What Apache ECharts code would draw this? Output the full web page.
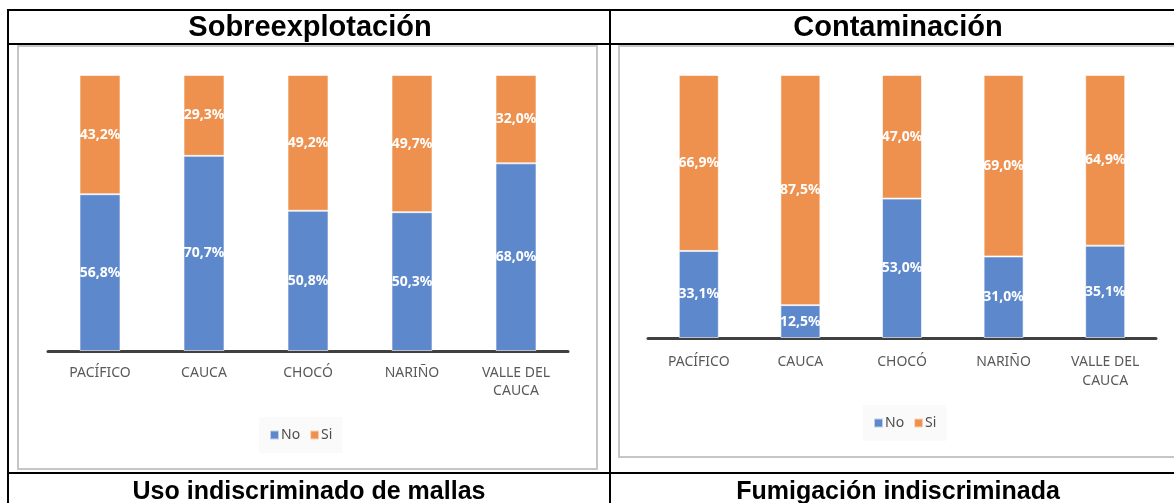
<!DOCTYPE html>
<html>
<head>
<meta charset="utf-8">
<script src="https://cdn.jsdelivr.net/npm/echarts@6/dist/echarts.min.js"></script>
<style>
html,body{margin:0;padding:0;background:#fff;}
#c{width:1174px;height:503px;}
</style>
</head>
<body>
<div id="c"></div>
<script>
const categories = ['PACÍFICO', 'CAUCA', 'CHOCÓ', 'NARIÑO', 'VALLE DEL\nCAUCA'];
const seriesNames = ['No', 'Si'];
const sobreNo = [56.8, 70.7, 50.8, 50.3, 68.0];
const sobreSi = [43.2, 29.3, 49.2, 49.7, 32.0];
const contaNo = [33.1, 12.5, 53.0, 31.0, 35.1];
const contaSi = [66.9, 87.5, 47.0, 69.0, 64.9];
const panelTitles = ['Sobreexplotación', 'Contaminación'];
const bottomTitles = ['Uso indiscriminado de mallas', 'Fumigación indiscriminada'];

const BLUE = '#5D88CB', ORANGE = '#EF914E';
const FONT = 'Noto Sans';
const TFONT = 'Liberation Sans';

function fmt(p) { return p.value.toFixed(1).replace('.', ',') + '%'; }

function barSeries(name, data, idx, color, width) {
  return {
    type: 'bar', name: name, data: data, stack: 's' + idx,
    xAxisIndex: idx, yAxisIndex: idx, barWidth: width,
    itemStyle: { color: color, borderColor: 'rgba(255,255,255,0.6)', borderWidth: 1 },
    label: { show: true, position: 'inside', color: '#fff', fontWeight: 'bold',
      fontSize: 14, fontFamily: FONT, formatter: fmt },
    emphasis: { disabled: true }, animation: false
  };
}

function xAxis(idx, margin, lh) {
  return {
    type: 'category', gridIndex: idx, data: categories,
    axisLine: { lineStyle: { color: '#404040', width: 3 } },
    axisTick: { show: false },
    axisLabel: { color: '#595959', fontSize: 14, fontFamily: FONT, margin: margin, lineHeight: lh, interval: 0 }
  };
}
function yAxis(idx) {
  return { type: 'value', gridIndex: idx, min: 0, max: 100, show: false, splitLine: { show: false } };
}

const lineStyle = { stroke: '#000', lineWidth: 2 };
const graphics = [
  { type: 'rect', z: 0, shape: { x: 18, y: 46, width: 579, height: 423 }, style: { fill: '#fff', stroke: '#c6c6c6', lineWidth: 2 } },
  { type: 'rect', z: 0, shape: { x: 619, y: 46, width: 572, height: 411 }, style: { fill: '#fff', stroke: '#c6c6c6', lineWidth: 2 } },
  { type: 'line', shape: { x1: 7, y1: 10, x2: 1174, y2: 10 }, style: lineStyle },
  { type: 'line', shape: { x1: 7, y1: 44, x2: 1174, y2: 44 }, style: lineStyle },
  { type: 'line', shape: { x1: 7, y1: 473, x2: 1174, y2: 473 }, style: lineStyle },
  { type: 'line', shape: { x1: 8, y1: 9, x2: 8, y2: 503 }, style: lineStyle },
  { type: 'line', shape: { x1: 610, y1: 9, x2: 610, y2: 503 }, style: lineStyle },
  { type: 'text', x: 310, y: 28, style: { text: panelTitles[0], font: 'bold 29px "' + TFONT + '"', fill: '#000', align: 'center', verticalAlign: 'middle' } },
  { type: 'text', x: 898, y: 28, style: { text: panelTitles[1], font: 'bold 29px "' + TFONT + '"', fill: '#000', align: 'center', verticalAlign: 'middle' } },
  { type: 'text', x: 309, y: 492, style: { text: bottomTitles[0], font: 'bold 25px "' + TFONT + '"', fill: '#000', align: 'center', verticalAlign: 'middle' } },
  { type: 'text', x: 898, y: 492, style: { text: bottomTitles[1], font: 'bold 25px "' + TFONT + '"', fill: '#000', align: 'center', verticalAlign: 'middle' } }
];

function legend(cx, cy) {
  return {
    data: seriesNames, left: cx - 42, top: cy - 17, width: 84,
    icon: 'rect', itemWidth: 9, itemHeight: 9, itemGap: 9,
    backgroundColor: '#fafafa', padding: [11, 10],
    textStyle: { color: '#4d4d4d', fontSize: 14, fontFamily: FONT, padding: [0, 0, 0, -3] },
    selectedMode: false
  };
}

const chart = echarts.init(document.getElementById('c'), null, { renderer: 'canvas' });
chart.setOption({
  animation: false,
  backgroundColor: '#fff',
  graphic: graphics,
  legend: [legend(301, 434), legend(905, 422)],
  grid: [
    { left: 48, top: 75, width: 520, height: 276 },
    { left: 648, top: 75, width: 508, height: 263 }
  ],
  xAxis: [xAxis(0, 13, 18), xAxis(1, 15, 19)],
  yAxis: [yAxis(0), yAxis(1)],
  series: [
    barSeries(seriesNames[0], sobreNo, 0, BLUE, 41),
    barSeries(seriesNames[1], sobreSi, 0, ORANGE, 41),
    barSeries(seriesNames[0], contaNo, 1, BLUE, 40),
    barSeries(seriesNames[1], contaSi, 1, ORANGE, 40)
  ]
});
</script>
</body>
</html>
